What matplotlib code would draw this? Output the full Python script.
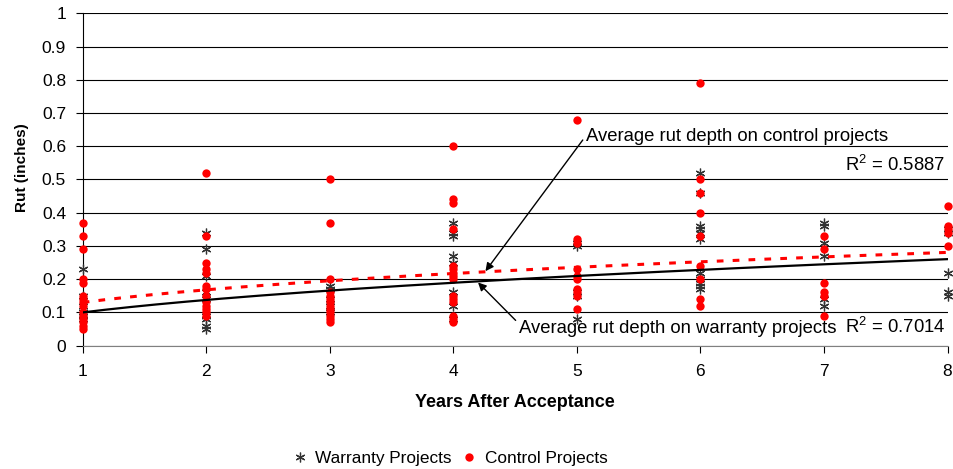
import numpy as np
import matplotlib
matplotlib.use('Agg')
import matplotlib.pyplot as plt
from matplotlib.lines import Line2D

plt.rcParams['font.family'] = ['Liberation Sans', 'DejaVu Sans']

# Years after acceptance (x categories)
years = [1, 2, 3, 4, 5, 6, 7, 8]

# Rut depth readings (inches) per year
warranty_rut = [
    [0.23, 0.15, 0.12, 0.10, 0.09, 0.08],
    [0.34, 0.29, 0.21, 0.16, 0.14, 0.09, 0.08, 0.06, 0.05],
    [0.18, 0.17, 0.14, 0.12, 0.10],
    [0.37, 0.34, 0.33, 0.27, 0.25, 0.16, 0.12, 0.08],
    [0.31, 0.30, 0.16, 0.15, 0.08],
    [0.52, 0.46, 0.36, 0.35, 0.34, 0.32, 0.22, 0.20, 0.19, 0.18, 0.17],
    [0.37, 0.36, 0.31, 0.27, 0.14, 0.12],
    [0.35, 0.34, 0.22, 0.16, 0.15],
]
control_rut = [
    [0.37, 0.33, 0.29, 0.20, 0.19, 0.15, 0.14, 0.13, 0.12, 0.10, 0.09, 0.08, 0.07, 0.06, 0.05],
    [0.52, 0.33, 0.25, 0.23, 0.22, 0.18, 0.17, 0.15, 0.13, 0.12, 0.11, 0.10, 0.09],
    [0.50, 0.37, 0.20, 0.16, 0.15, 0.14, 0.13, 0.12, 0.11, 0.10, 0.09, 0.08, 0.07],
    [0.60, 0.44, 0.43, 0.35, 0.24, 0.23, 0.22, 0.21, 0.20, 0.15, 0.14, 0.13, 0.09, 0.08, 0.07],
    [0.68, 0.32, 0.31, 0.23, 0.21, 0.20, 0.17, 0.16, 0.15, 0.11],
    [0.79, 0.50, 0.46, 0.40, 0.33, 0.24, 0.20, 0.14, 0.12],
    [0.33, 0.29, 0.19, 0.16, 0.15, 0.09],
    [0.42, 0.36, 0.35, 0.34, 0.30],
]

# Power trendlines y = c * x^p (coefficients)
warranty_trend = (0.100, 0.46)
control_trend = (0.130, 0.37)
warranty_r2 = r"$\mathregular{R^2}$ = 0.7014"
control_r2 = r"$\mathregular{R^2}$ = 0.5887"

fig = plt.figure(figsize=(9.54, 4.69), dpi=100)
ax = fig.add_axes([0.0867, 0.263, 0.9065, 0.7087])

# Scatter points
wx = [y for y, vals in zip(years, warranty_rut) for _ in vals]
wy = [v for vals in warranty_rut for v in vals]
cx = [y for y, vals in zip(years, control_rut) for _ in vals]
cy = [v for vals in control_rut for v in vals]

ax.plot(wx, wy, linestyle='none', marker=(6, 2, 0), markersize=7,
        markeredgewidth=0.9, color='#333333', zorder=3, clip_on=False)
ax.plot(cx, cy, linestyle='none', marker='o', markersize=6,
        color='#ff0000', markeredgewidth=0, zorder=4, clip_on=False)

# Trendlines
xs = np.linspace(years[0], years[-1], 200)
ax.plot(xs, warranty_trend[0] * xs ** warranty_trend[1], color='black',
        lw=1.6, zorder=5)
ax.plot(xs, control_trend[0] * xs ** control_trend[1], color='#ff0000',
        lw=2.2, linestyle=(0, (2.2, 3.0)), zorder=5)

# Axes formatting
ax.set_xlim(1, 8)
ax.set_ylim(0, 1)
ax.set_xticks(years)
ax.set_yticks(np.arange(0, 1.01, 0.1))
ax.set_yticklabels(['0'] + ['%.1f' % v for v in np.arange(0.1, 0.95, 0.1)] + ['1'])
ax.yaxis.grid(True, color='black', lw=0.8)
ax.set_axisbelow(True)
for side in ['top', 'right']:
    ax.spines[side].set_visible(False)
ax.spines['left'].set_color('black')
ax.spines['bottom'].set_color('#808080')
ax.tick_params(axis='both', labelsize=12.5, direction='out', length=5,
               color='black')
ax.tick_params(axis='x', pad=8)
ax.tick_params(axis='y', pad=7)
ax.set_ylabel('Rut (inches)', fontsize=11, fontweight='bold')
ax.yaxis.set_label_coords(-0.062, 0.535)
ax.set_xlabel('Years After Acceptance', fontsize=13, fontweight='bold',
              labelpad=11)

# Annotations
ax.annotate('Average rut depth on control projects', xy=(4.26, 0.224),
            xytext=(5.07, 0.63), fontsize=13.3, va='center', ha='left',
            arrowprops=dict(arrowstyle='-|>', color='black', lw=1,
                            shrinkA=0, shrinkB=0, mutation_scale=12,
                            relpos=(0, 0.5)))
ax.annotate('Average rut depth on warranty projects', xy=(4.2, 0.19),
            xytext=(4.53, 0.053), fontsize=13.3, va='center', ha='left',
            arrowprops=dict(arrowstyle='-|>', color='black', lw=1,
                            shrinkA=0, shrinkB=0, mutation_scale=12,
                            relpos=(-0.01, 0.95)))
ax.text(7.98, 0.545, control_r2, fontsize=13.3, ha='right', va='center')
ax.text(7.98, 0.055, warranty_r2, fontsize=13.3, ha='right', va='center')

# Legend
handles = [
    Line2D([], [], linestyle='none', marker=(6, 2, 0), markersize=7,
           markeredgewidth=0.9, color='#333333'),
    Line2D([], [], linestyle='none', marker='o', markersize=6,
           color='#ff0000', markeredgewidth=0),
]
fig.legend(handles, ['Warranty Projects', 'Control Projects'], loc='center',
           bbox_to_anchor=(0.472, 0.023), ncol=2, frameon=False,
           fontsize=12.4, handlelength=0.8, handletextpad=0.5,
           columnspacing=0.6)

fig.savefig('out.png', dpi=100)
